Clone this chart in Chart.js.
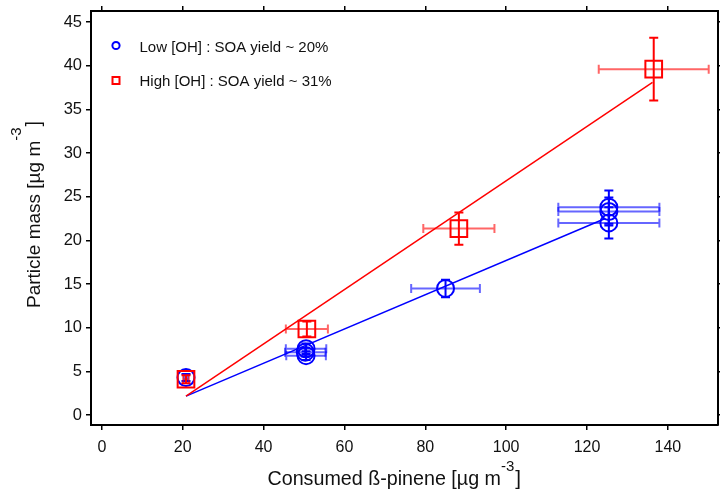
<!DOCTYPE html>
<html><head><meta charset="utf-8">
<script src="https://cdn.jsdelivr.net/npm/chart.js@4.4.0/dist/chart.umd.min.js"></script>
<style>html,body{margin:0;padding:0;background:#fff}#wrap{width:720px;height:496px}</style>
</head><body><div id="wrap"><canvas id="c" width="720" height="496"></canvas></div>
<script>
// ---- data ----
const lowX    = [20.8, 50.5, 50.3, 50.5, 85.0, 125.4, 125.4, 125.4];
const lowY    = [4.3, 7.6, 7.2, 6.8, 14.5, 23.8, 23.3, 22.0];
const lowXErr = [0.5, 5.0, 5.0, 4.9, 8.5, 12.5, 12.5, 12.5];
const lowYErr = [0.4, 0.6, 0.5, 0.5, 1.0, 1.9, 1.6, 1.8];
const highX    = [20.8, 50.7, 88.3, 136.5];
const highY    = [4.1, 9.85, 21.35, 39.6];
const highXErr = [0.7, 5.2, 8.8, 13.6];
const highYErr = [0.45, 0.85, 1.85, 3.6];
const lowFitX  = [20.8, 124.5];
const lowFitY  = [2.17, 22.5];
const highFitX = [20.8, 136.2];
const highFitY = [2.17, 38.1];
const xTicks = [0, 20, 40, 60, 80, 100, 120, 140];
const yTicks = [0, 5, 10, 15, 20, 25, 30, 35, 40, 45];
const xRange = [-2.7, 152.4];
const yRange = [-1.14, 46.26];
const lowLabel  = 'Low [OH] : SOA yield ~ 20%';
const highLabel = 'High [OH] : SOA yield ~ 31%';
const xTitle = ['Consumed ß-pinene [µg m', '-3', ']'];
const yTitle = ['Particle mass [µg m', '-3', ']'];

const BLUE = '#0000ff', RED = '#ff0000';
const FONT = 'Arial, "Liberation Sans", sans-serif';
const zip = (xs, ys) => xs.map((v, i) => ({x: v, y: ys[i]}));

const errorBars = {
  id: 'errorBars',
  afterDatasetsDraw(chart) {
    const {ctx, scales: {x, y}} = chart;
    const sets = chart.data.datasets.slice().reverse();
    sets.forEach(ds => {
      if (!ds.errX) return;
      ds.data.forEach((p, i) => {
        const px = x.getPixelForValue(p.x), py = y.getPixelForValue(p.y);
        const x0 = x.getPixelForValue(p.x - ds.errX[i]), x1 = x.getPixelForValue(p.x + ds.errX[i]);
        const y0 = y.getPixelForValue(p.y - ds.errY[i]), y1 = y.getPixelForValue(p.y + ds.errY[i]);
        ctx.save();
        ctx.lineWidth = 2;
        ctx.strokeStyle = ds.errColorX;
        ctx.beginPath();
        ctx.moveTo(x0, py); ctx.lineTo(x1, py);
        ctx.moveTo(x0, py - 4.5); ctx.lineTo(x0, py + 4.5);
        ctx.moveTo(x1, py - 4.5); ctx.lineTo(x1, py + 4.5);
        ctx.stroke();
        ctx.strokeStyle = ds.borderColor;
        ctx.beginPath();
        ctx.moveTo(px, y0); ctx.lineTo(px, y1);
        ctx.moveTo(px - 4.5, y0); ctx.lineTo(px + 4.5, y0);
        ctx.moveTo(px - 4.5, y1); ctx.lineTo(px + 4.5, y1);
        ctx.stroke();
        ctx.restore();
      });
    });
  }
};

function drawSupText(ctx, parts, size, supSize, raise) {
  ctx.font = size + 'px ' + FONT;
  ctx.fillText(parts[0], 0, 0);
  let w = ctx.measureText(parts[0]).width;
  ctx.font = supSize + 'px ' + FONT;
  ctx.fillText(parts[1], w, -raise);
  w += ctx.measureText(parts[1]).width + 1;
  ctx.font = (size + 1) + 'px ' + FONT;
  ctx.fillText(parts[2], w, 0);
}

const decorations = {
  id: 'decorations',
  afterDraw(chart) {
    const ctx = chart.ctx;
    ctx.save();
    ctx.fillStyle = '#111';
    ctx.textBaseline = 'alphabetic';
    ctx.textAlign = 'left';
    ctx.lineWidth = 2;
    ctx.strokeStyle = BLUE;
    ctx.beginPath(); ctx.arc(116, 45.5, 3.6, 0, Math.PI * 2); ctx.stroke();
    ctx.strokeStyle = RED;
    ctx.strokeRect(112.5, 77, 7, 7);
    ctx.font = '15px ' + FONT;
    ctx.fillText(lowLabel, 139.5, 51.5);
    ctx.fillText(highLabel, 139.5, 86);
    ctx.save();
    ctx.translate(267.5, 485);
    drawSupText(ctx, xTitle, 19.7, 15, 14);
    ctx.restore();
    ctx.save();
    ctx.translate(40, 308);
    ctx.rotate(-Math.PI / 2);
    drawSupText(ctx, yTitle, 19, 15, 19);
    ctx.restore();
    ctx.restore();
  }
};

const gridCommon = {drawOnChartArea: false, drawTicks: true, color: '#000', lineWidth: 1.5};
const borderCommon = {display: true, color: '#000', width: 2};
function fixSize(prop, val) {
  return s => { s[prop] = val; s.paddingLeft = 0; s.paddingRight = 0; s.paddingTop = 0; s.paddingBottom = 0; };
}

new Chart(document.getElementById('c'), {
  type: 'scatter',
  data: {
    datasets: [
      {label: highLabel, data: zip(highX, highY), errX: highXErr, errY: highYErr,
       borderColor: RED, backgroundColor: 'rgba(0,0,0,0)', errColorX: 'rgba(255,0,0,0.6)',
       pointStyle: 'rect', pointRadius: 11.8, borderWidth: 2, showLine: false},
      {label: lowLabel, data: zip(lowX, lowY), errX: lowXErr, errY: lowYErr,
       borderColor: BLUE, backgroundColor: 'rgba(0,0,0,0)', errColorX: 'rgba(0,0,255,0.6)',
       pointStyle: 'circle', pointRadius: 8.5, borderWidth: 2, showLine: false},
      {label: 'high fit', data: zip(highFitX, highFitY), showLine: true, borderColor: RED,
       borderWidth: 1.5, pointRadius: 0, fill: false},
      {label: 'low fit', data: zip(lowFitX, lowFitY), showLine: true, borderColor: BLUE,
       borderWidth: 1.5, pointRadius: 0, fill: false}
    ]
  },
  options: {
    responsive: false,
    animation: false,
    devicePixelRatio: 1,
    events: [],
    layout: {padding: 0, autoPadding: false},
    plugins: {legend: {display: false}, tooltip: {enabled: false}},
    scales: {
      x: {
        type: 'linear', position: 'bottom', min: xRange[0], max: xRange[1],
        afterBuildTicks: s => { s.ticks = xTicks.map(v => ({value: v})); },
        afterFit: fixSize('height', 71),
        ticks: {color: '#111', font: {size: 16, family: FONT}, padding: 8, maxRotation: 0, autoSkip: false},
        grid: Object.assign({tickLength: 5}, gridCommon),
        border: borderCommon
      },
      x2: {
        type: 'linear', axis: 'x', position: 'top', min: xRange[0], max: xRange[1],
        afterBuildTicks: s => { s.ticks = xTicks.map(v => ({value: v})); },
        afterFit: fixSize('height', 11),
        ticks: {display: false},
        grid: Object.assign({tickLength: 5}, gridCommon),
        border: borderCommon
      },
      y: {
        type: 'linear', position: 'left', min: yRange[0], max: yRange[1],
        afterBuildTicks: s => { s.ticks = yTicks.map(v => ({value: v})); },
        afterFit: fixSize('width', 91),
        ticks: {color: '#111', font: {size: 16.5, family: FONT}, padding: 4, autoSkip: false},
        grid: Object.assign({tickLength: 5}, gridCommon),
        border: borderCommon
      },
      y2: {
        type: 'linear', axis: 'y', position: 'right', min: yRange[0], max: yRange[1],
        afterBuildTicks: s => { s.ticks = yTicks.map(v => ({value: v})); },
        afterFit: fixSize('width', 2),
        ticks: {display: false},
        grid: Object.assign({tickLength: 2}, gridCommon),
        border: borderCommon
      }
    }
  },
  plugins: [errorBars, decorations]
});
</script>
</body></html>
